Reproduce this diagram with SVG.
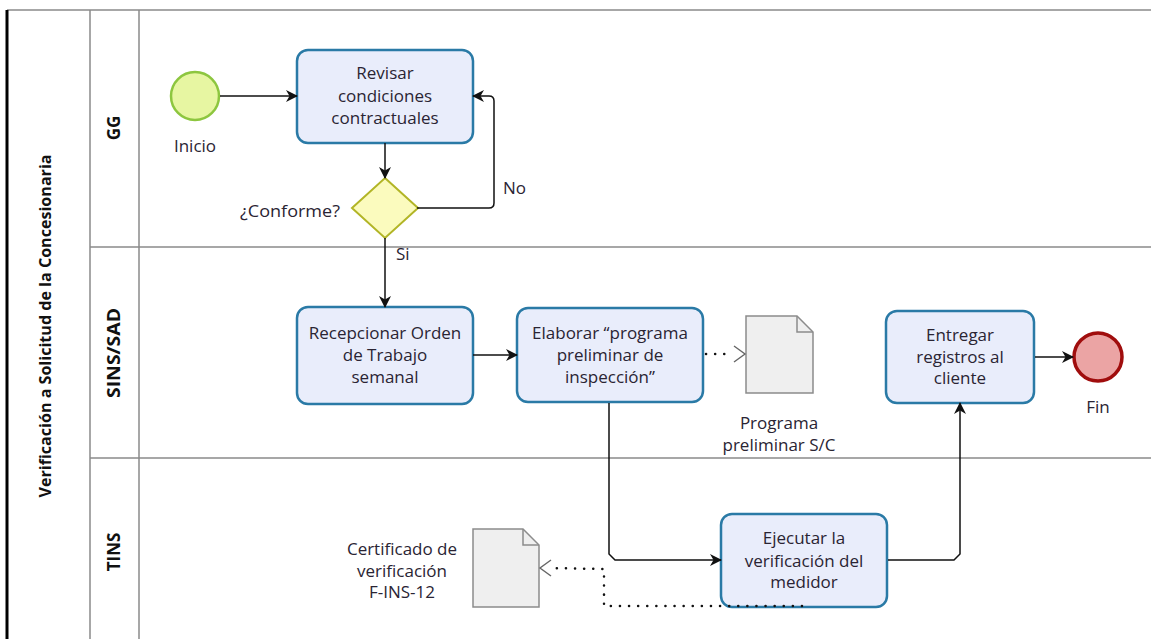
<svg xmlns="http://www.w3.org/2000/svg" width="1151" height="639" viewBox="0 0 1151 639">
  <style>
    .lane { stroke: #8a8a8a; stroke-width: 1.5; fill: none; }
    .task { fill: #e9edfb; stroke: #2a7aa6; stroke-width: 2.5; }
    .txt { font-family: "Open Sans", "DejaVu Sans", sans-serif; font-size: 17px; fill: #2a2433; text-anchor: middle; }
    .lbl { font-family: "Open Sans", "DejaVu Sans", sans-serif; font-size: 17px; fill: #2a2433; }
    .hdr { font-family: "Open Sans", "DejaVu Sans", sans-serif; font-weight: bold; fill: #111; text-anchor: middle; }
    .flow { stroke: #111; stroke-width: 1.5; fill: none; }
    .assoc { stroke: #111; stroke-width: 2.5; fill: none; stroke-dasharray: 0.1 9; stroke-linecap: round; }
    .chev { stroke: #666; stroke-width: 1.4; fill: none; }
    .doc { fill: #efefef; stroke: #8c8c8c; stroke-width: 1.5; }
  </style>
  <defs>
    <marker id="arr" viewBox="0 0 12 12" refX="11" refY="6" markerWidth="12" markerHeight="12" markerUnits="userSpaceOnUse" orient="auto">
      <path d="M0,0 L12,6 L0,12 L3.5,6 z" fill="#111"/>
    </marker>
  </defs>

  <g id="pool">
    <line x1="7" y1="10" x2="1151" y2="10" class="lane"/>
    <line x1="90" y1="247" x2="1151" y2="247" class="lane"/>
    <line x1="90" y1="458" x2="1151" y2="458" class="lane"/>
    <line x1="90" y1="10" x2="90" y2="639" class="lane"/>
    <line x1="139" y1="10" x2="139" y2="639" class="lane"/>
    <line x1="7" y1="10" x2="7" y2="639" stroke="#000" stroke-width="3"/>
    <text class="hdr" font-size="15.5" textLength="343" lengthAdjust="spacingAndGlyphs" transform="translate(51,326) rotate(-90)">Verificación a Solicitud de la Concesionaria</text>
    <text class="hdr" font-size="17" transform="translate(120,128) rotate(-90)">GG</text>
    <text class="hdr" font-size="17" textLength="90" lengthAdjust="spacingAndGlyphs" transform="translate(120,353) rotate(-90)">SINS/SAD</text>
    <text class="hdr" font-size="17" transform="translate(120,552) rotate(-90)">TINS</text>
  </g>

  <g id="start">
    <circle cx="195" cy="96" r="24" fill="#e7f6a2" stroke="#8dc63f" stroke-width="2.5"/>
    <text class="txt" x="195" y="152">Inicio</text>
  </g>

  <g id="task-revisar">
    <rect x="297" y="50" width="176" height="93" rx="11" class="task"/>
    <text class="txt" x="385" y="79">Revisar</text>
    <text class="txt" x="385" y="102">condiciones</text>
    <text class="txt" x="385" y="124">contractuales</text>
  </g>

  <g id="gateway">
    <polygon points="385,178 418,208 385,238 352,208" fill="#fbfbbe" stroke="#b2b526" stroke-width="2"/>
    <text class="lbl" x="340" y="217" text-anchor="end" textLength="100" lengthAdjust="spacingAndGlyphs">¿Conforme?</text>
  </g>

  <g id="task-recepcionar">
    <rect x="297" y="307" width="176" height="97" rx="11" class="task"/>
    <text class="txt" x="385" y="339">Recepcionar Orden</text>
    <text class="txt" x="385" y="361">de Trabajo</text>
    <text class="txt" x="385" y="383">semanal</text>
  </g>

  <g id="task-elaborar">
    <rect x="517" y="308" width="186" height="94" rx="11" class="task"/>
    <text class="txt" x="610" y="339">Elaborar “programa</text>
    <text class="txt" x="610" y="361">preliminar de</text>
    <text class="txt" x="610" y="383">inspección”</text>
  </g>

  <g id="data-programa">
    <path d="M746,316 L797,316 L813,332 L813,393 L746,393 Z" class="doc"/>
    <path d="M797,316 L797,332 L813,332" fill="none" stroke="#8c8c8c" stroke-width="1.5"/>
    <text class="txt" x="779" y="429">Programa</text>
    <text class="txt" x="779" y="451">preliminar S/C</text>
  </g>

  <g id="task-entregar">
    <rect x="886" y="311" width="148" height="92" rx="11" class="task"/>
    <text class="txt" x="960" y="341">Entregar</text>
    <text class="txt" x="960" y="363">registros al</text>
    <text class="txt" x="960" y="384">cliente</text>
  </g>

  <g id="end">
    <circle cx="1098" cy="357" r="24" fill="#eba4a4" stroke="#a00d0d" stroke-width="3.5"/>
    <text class="txt" x="1098" y="413">Fin</text>
  </g>

  <g id="task-ejecutar">
    <rect x="721" y="514" width="166" height="93" rx="11" class="task"/>
    <text class="txt" x="804" y="544">Ejecutar la</text>
    <text class="txt" x="804" y="567">verificación del</text>
    <text class="txt" x="804" y="588">medidor</text>
  </g>

  <g id="data-certificado">
    <path d="M473,529 L523,529 L539,545 L539,607 L473,607 Z" class="doc"/>
    <path d="M523,529 L523,545 L539,545" fill="none" stroke="#8c8c8c" stroke-width="1.5"/>
    <text class="txt" x="402" y="555">Certificado de</text>
    <text class="txt" x="402" y="577">verificación</text>
    <text class="txt" x="402" y="598">F-INS-12</text>
  </g>

  <g id="connectors">
    <line x1="220" y1="96" x2="297" y2="96" class="flow" marker-end="url(#arr)"/>
    <line x1="385" y1="143" x2="385" y2="178" class="flow" marker-end="url(#arr)"/>
    <path d="M417,208 L489,208 Q494,208 494,203 L494,101 Q494,96 489,96 L473,96" class="flow" marker-end="url(#arr)"/>
    <line x1="385" y1="238" x2="385" y2="307" class="flow" marker-end="url(#arr)"/>
    <line x1="473" y1="355" x2="517" y2="355" class="flow" marker-end="url(#arr)"/>
    <path d="M609,403 L609,554 L615,560 L721,560" class="flow" marker-end="url(#arr)"/>
    <path d="M888,560 L954,560 L960,554 L960,403" class="flow" marker-end="url(#arr)"/>
    <line x1="1035" y1="357" x2="1073" y2="357" class="flow" marker-end="url(#arr)"/>
    <path d="M706,354 L732,354" class="assoc"/>
    <path d="M734,346 L745,354 L734,362" class="chev"/>
    <path d="M802,606 L604,606 L604,569 L550,568" class="assoc"/>
    <path d="M551,560 L540,568 L551,576" class="chev"/>
    <text class="lbl" x="503" y="194">No</text>
    <text class="lbl" x="396" y="260">Si</text>
  </g>
</svg>
